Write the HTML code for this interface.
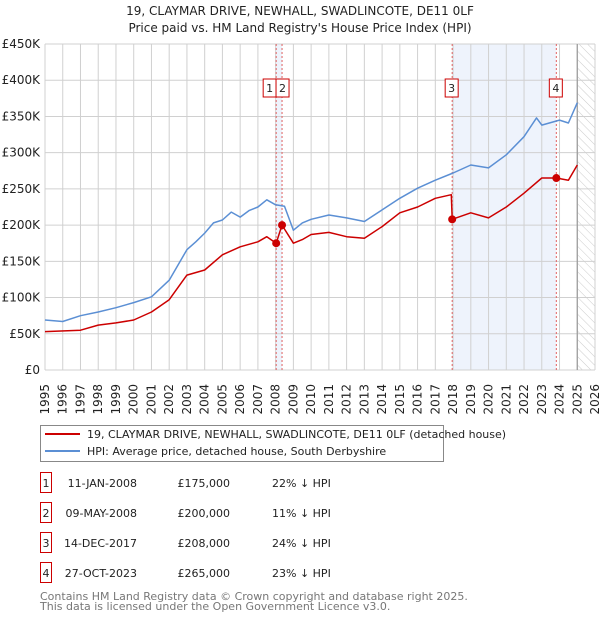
<!DOCTYPE html>
<html><head><meta charset="utf-8">
<style>
body{margin:0;background:#fff;font-family:"Liberation Sans","DejaVu Sans",sans-serif;}
#wrap{position:relative;width:600px;height:620px;overflow:hidden;}
svg text{font-family:"DejaVu Sans","Liberation Sans",sans-serif;}
</style></head>
<body>
<div id="wrap">
<svg id="chart" width="600" height="620"></svg>
</div>
<script>
const hpiYears=[1995,1996,1997,1998,1999,2000,2001,2002,2003,2003.5,2004,2004.5,2005,2005.5,2006,2006.5,2007,2007.5,2008,2008.5,2009,2009.5,2010,2011,2012,2013,2014,2015,2016,2017,2018,2019,2020,2021,2022,2022.7,2023,2024,2024.5,2025];
const hpiValues=[69,67,75,80,86,93,101,124,166,177,189,203,207,218,211,220,225,235,228,226,193,203,208,214,210,205,221,237,251,262,272,283,279,297,322,348,338,345,341,369];
const propYears=[1995,1997,1998,1999,2000,2001,2002,2003,2004,2005,2006,2007,2007.5,2008.03,2008.36,2009,2009.5,2010,2011,2012,2013,2014,2015,2016,2017,2017.9,2017.95,2019,2020,2021,2022,2023,2023.82,2024.5,2025];
const propValues=[53,55,62,65,69,80,97,131,138,159,170,177,184,175,200,175,180,187,190,184,182,198,217,225,237,242,208,217,210,225,244,265,265,262,283];
const saleYears=[2008.03,2008.36,2017.95,2023.82];
const saleValues=[175,200,208,265];
const saleLabels=["1","2","3","4"];
const yTicks=[0,50,100,150,200,250,300,350,400,450];
const yTickLabels=["£0","£50K","£100K","£150K","£200K","£250K","£300K","£350K","£400K","£450K"];
const xTicks=[1995,1996,1997,1998,1999,2000,2001,2002,2003,2004,2005,2006,2007,2008,2009,2010,2011,2012,2013,2014,2015,2016,2017,2018,2019,2020,2021,2022,2023,2024,2025,2026];
const tableDates=["11-JAN-2008","09-MAY-2008","14-DEC-2017","27-OCT-2023"];
const tablePrices=["£175,000","£200,000","£208,000","£265,000"];
const tableHpi=["22% ↓ HPI","11% ↓ HPI","24% ↓ HPI","23% ↓ HPI"];

const NS="http://www.w3.org/2000/svg";
const svg=document.getElementById('chart');
const L=45,R=595,T=44,B=370;
const x=y=>L+(y-1995)/(2026-1995)*(R-L);
const yv=v=>B-v/450*(B-T);
function el(tag,attrs,parent){const e=document.createElementNS(NS,tag);for(const k in attrs)e.setAttribute(k,attrs[k]);(parent||svg).appendChild(e);return e;}
function txt(s,attrs,parent){const e=el('text',attrs,parent);e.textContent=s;return e;}

// title
let t1=txt("19, CLAYMAR DRIVE, NEWHALL, SWADLINCOTE, DE11 0LF",{x:300,y:15,'text-anchor':'middle','font-size':12,fill:'#222'});


let t2=txt("Price paid vs. HM Land Registry's House Price Index (HPI)",{x:300,y:32,'text-anchor':'middle','font-size':12,fill:'#222'});



// shaded regions
let s1=el('rect',{x:x(saleYears[0]),y:T,width:x(saleYears[1])-x(saleYears[0]),height:B-T,fill:'#eef3fc'});


let s2=el('rect',{x:x(saleYears[2]),y:T,width:x(saleYears[3])-x(saleYears[2]),height:B-T,fill:'#eef3fc'});


// hatch
const defs=el('defs',{});
const pat=el('pattern',{id:'hatch',width:6,height:6,patternUnits:'userSpaceOnUse',patternTransform:'rotate(-45)'},defs);
el('line',{x1:0,y1:0,x2:0,y2:6,stroke:'#ccc','stroke-width':1},pat);
let hz=el('rect',{x:x(2025),y:T,width:R-x(2025),height:B-T,fill:'url(#hatch)'});



// grid
const grid=el('g',{});


yTicks.forEach((v,i)=>{
  el('line',{x1:L,x2:R,y1:yv(v),y2:yv(v),stroke:'#d0d0d0','stroke-width':1},grid);
  const lb=txt(yTickLabels[i],{x:40,y:yv(v)+4,'text-anchor':'end','font-size':12,fill:'#222'});
  
  
});
xTicks.forEach(yr=>{
  el('line',{x1:x(yr),x2:x(yr),y1:T,y2:B,stroke:'#d0d0d0','stroke-width':1},grid);
  const lb=txt(String(yr),{x:0,y:0,'text-anchor':'end','font-size':12,fill:'#222',transform:`translate(${x(yr)+4},384) rotate(-90)`});
  
  
});
el('line',{x1:x(2025),x2:x(2025),y1:T,y2:B,stroke:'#999','stroke-width':1.2});

// sale vlines
saleYears.forEach((yr,i)=>{
  const ln=el('line',{x1:x(yr),x2:x(yr),y1:T,y2:B,stroke:'#e06060','stroke-width':1,'stroke-dasharray':'2,2'});
  
  
});

function path(xs,vs,color,name){
  const d=xs.map((yr,i)=>(i?'L':'M')+x(yr).toFixed(1)+','+yv(vs[i]).toFixed(1)).join(' ');
  const p=el('path',{d:d,fill:'none',stroke:color,'stroke-width':1.5,'stroke-linejoin':'round'});
  
  
}
path(hpiYears,hpiValues,'#5b8fd4','hpi-line');
path(propYears,propValues,'#cc0000','property-price-line');

saleYears.forEach((yr,i)=>{
  const c=el('circle',{cx:x(yr),cy:yv(saleValues[i]),r:4,fill:'#cc0000'});
  
  
  const bx=i===0?x(yr)-13:(i===1?x(yr)-6:x(yr)-7);
  const g=el('g',{});
  
  
  el('rect',{x:bx,y:79,width:13,height:18,fill:'#fff',stroke:'#c00','stroke-width':1},g);
  txt(saleLabels[i],{x:bx+6.5,y:92,'text-anchor':'middle','font-size':11,fill:'#222'},g);
});

// legend
const lg=el('g',{});


el('rect',{x:40.5,y:425.5,width:403,height:36,fill:'#fff',stroke:'#888'},lg);
el('line',{x1:45,x2:80,y1:434,y2:434,stroke:'#cc0000','stroke-width':2},lg);
txt("19, CLAYMAR DRIVE, NEWHALL, SWADLINCOTE, DE11 0LF (detached house)",{x:87,y:438,'font-size':11,fill:'#222'},lg);
el('line',{x1:45,x2:80,y1:451,y2:451,stroke:'#5b8fd4','stroke-width':2},lg);
txt("HPI: Average price, detached house, South Derbyshire",{x:87,y:455,'font-size':11,fill:'#222'},lg);

// table
tableDates.forEach((d,i)=>{
  const cy=483+i*30;
  const g=el('g',{});
  
  
  el('rect',{x:40.5,y:cy-10.5,width:11,height:20,fill:'#fff',stroke:'#c00'},g);
  txt(saleLabels[i],{x:46,y:cy+4,'text-anchor':'middle','font-size':11,fill:'#222'},g);
  txt(d,{x:137,y:cy+4,'text-anchor':'end','font-size':11,fill:'#222'},g);
  txt(tablePrices[i],{x:230,y:cy+4,'text-anchor':'end','font-size':11,fill:'#222'},g);
  txt(tableHpi[i],{x:272,y:cy+4,'font-size':11,fill:'#222'},g);
});
const f1=txt("Contains HM Land Registry data © Crown copyright and database right 2025.",{x:40,y:600,'font-size':11,fill:'#777'});


const f2=txt("This data is licensed under the Open Government Licence v3.0.",{x:40,y:610,'font-size':11,fill:'#777'});


</script>
</body></html>
